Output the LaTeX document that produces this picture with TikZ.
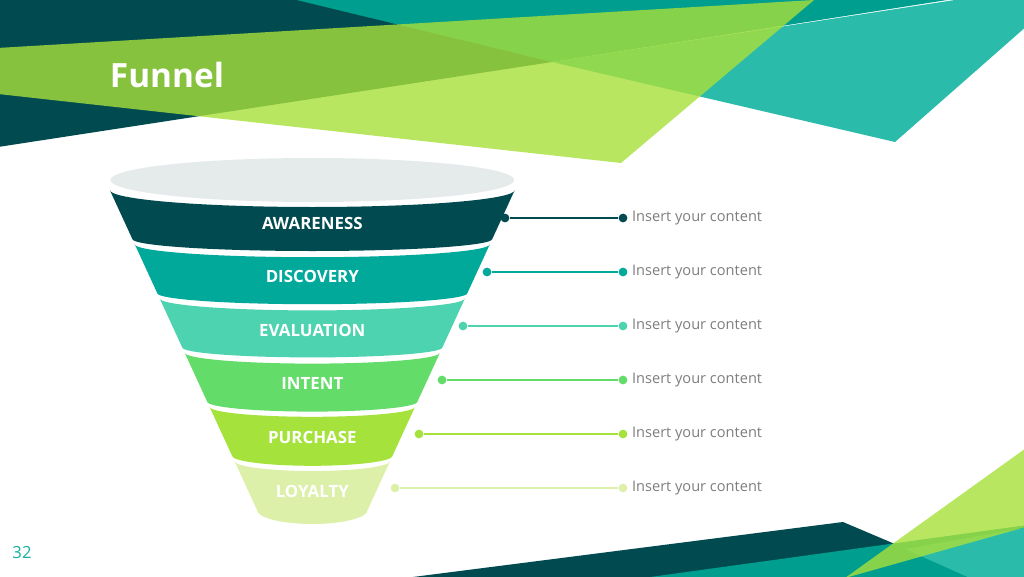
\documentclass[tikz,border=0pt]{standalone}
\usepackage{fontspec}
\setmainfont{Open Sans}
\usepackage{xcolor}
\usetikzlibrary{positioning}
\definecolor{bgdark}{HTML}{014B50}
\definecolor{bgteal}{HTML}{009E8F}
\definecolor{bglight}{HTML}{2BBBAA}
\definecolor{bglime}{HTML}{A8E03A}
\definecolor{rim}{HTML}{E5EBEB}
\definecolor{awareness}{HTML}{014B50}
\definecolor{discovery}{HTML}{00A99A}
\definecolor{evaluation}{HTML}{4DD3B0}
\definecolor{intent}{HTML}{64DC6A}
\definecolor{purchase}{HTML}{A5E33C}
\definecolor{loyalty}{HTML}{DDF0A9}
\definecolor{graytext}{HTML}{7D7D7D}
\definecolor{pagenum}{HTML}{1AAE9F}
\tikzset{
	title/.style={text=white, inner sep=0pt, font=\bfseries\fontsize{19}{22}\selectfont},
	band label/.style={text=white, inner sep=0pt, font=\bfseries\fontsize{9.6}{11}\selectfont},
	dot/.style={circle, fill=#1, inner sep=0pt, minimum size=5pt},
	content/.style={text=graytext, inner sep=0pt, font=\fontsize{8.3}{10}\selectfont}
}

\begin{document}
\begin{tikzpicture}[x=0.02cm, y=0.02cm]
	\useasboundingbox (0,0) rectangle (1024,576);
	\clip (0,0) rectangle (1024,576);

	\fill[bgteal]	(280,578) -- (552,514) -- (960,578) -- cycle;
	\fill[bgdark]	(-2,578) -- (288,578) -- (552,514) -- (-2,429) -- cycle;
	\fill[bglight]	(552,514) -- (895,434) -- (1078,595) -- cycle;
	\fill[bglime, opacity=0.8]	(-20,527) -- (814,576) -- (621,413) -- (-20,484) -- cycle;

	\fill[bgdark]	(405,-2) -- (843,54) -- (975,-2) -- cycle;
	\fill[bgteal]	(643,-2) -- (1100,61) -- (1100,-2) -- cycle;
	\fill[bglight]	(905,27) -- (1024,48) -- (1030,-2) -- (970,-2) -- cycle;
	\fill[bglime, opacity=0.8]	(845,-2) -- (1100,181) -- (1100,70) -- cycle;

	\node[title] (title) at (167,501) {Funnel};
	\node[text=pagenum, inner sep=0pt, font=\fontsize{9.5}{11}\selectfont] (page) at (22,23) {32};

	\fill[rim]	(312.3,396) ellipse[x radius=202, y radius=22];

	\foreach \i/\name/\col/\dx/\dt/\db in {0/AWARENESS/awareness/505/17/12, 1/DISCOVERY/discovery/487/13/11, 2/EVALUATION/evaluation/463/12/10, 3/INTENT/intent/442/11/10, 4/PURCHASE/purchase/419/10/10, 5/LOYALTY/loyalty/395/10/14} {
		\pgfmathsetmacro\yt{386-54.2*\i}
		\pgfmathsetmacro\yb{\yt-49}
		\pgfmathsetmacro\wt{202.5-0.46*(386-\yt)}
		\pgfmathsetmacro\wb{202.5-0.46*(386-\yb)}
		\fill[\col]	(312.3-\wt,\yt) arc[start angle=180, end angle=360, x radius=\wt, y radius=\dt]
			-- (312.3+\wb,\yb) arc[start angle=0, end angle=-180, x radius=\wb, y radius=\db] -- cycle;
		\node[band label] (lbl\i) at (312.3,353-53.6*\i) {\name};

		\node[dot=\col] (dl\i) at (\dx,358-54*\i) {};
		\node[dot=\col] (dr\i) at (623,358-54*\i) {};
		\draw[\col, line width=1pt]	(dl\i) -- (dr\i);
		\node[content, right=0.08cm of dr\i] (txt\i) {Insert your content};
	}
\end{tikzpicture}
\end{document}
